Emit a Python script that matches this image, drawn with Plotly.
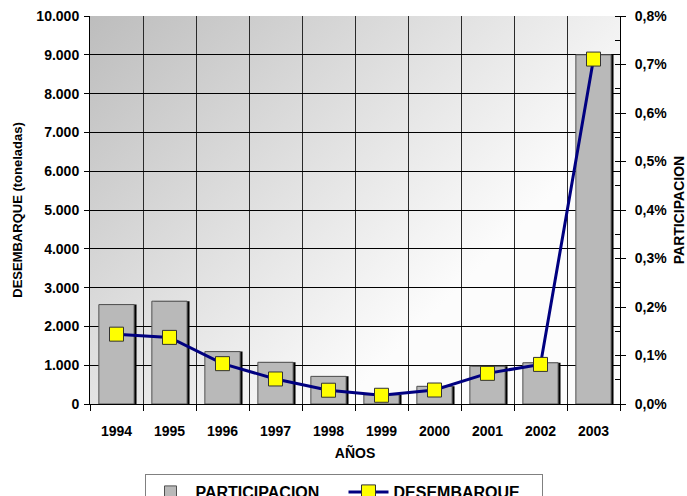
import base64
import plotly.graph_objects as go

years = ["1994", "1995", "1996", "1997", "1998", "1999", "2000", "2001", "2002", "2003"]
participacion = [0.00205, 0.00212, 0.00108, 0.00086, 0.00057, 0.00019, 0.000365, 0.00078, 0.00085, 0.0072]
desembarque = [1800, 1717, 1040, 645, 355, 225, 360, 790, 1020, 8890]

FONT = "Liberation Sans, Arial, sans-serif"

svg = (
    '<svg xmlns="http://www.w3.org/2000/svg" width="530" height="388" preserveAspectRatio="none">'
    '<defs><linearGradient id="g" gradientUnits="userSpaceOnUse" x1="0" y1="0" x2="320" y2="320">'
    '<stop offset="0" stop-color="#bdbdbd"/>'
    '<stop offset="1" stop-color="#fcfcfc"/>'
    '</linearGradient></defs>'
    '<rect width="530" height="388" fill="url(#g)"/></svg>'
)
src = "data:image/svg+xml;base64," + base64.b64encode(svg.encode()).decode()

fig = go.Figure()

# shadow of bars
fig.add_trace(go.Bar(
    x=years, y=participacion, yaxis="y", width=0.666, offset=-0.333 + 0.045,
    marker=dict(color="#000000", line=dict(width=0)),
    showlegend=False, hoverinfo="skip",
))
fig.add_trace(go.Bar(
    x=years, y=participacion, yaxis="y", name="PARTICIPACION", width=0.666, offset=-0.333,
    marker=dict(color="#b9b9b9", line=dict(color="#505050", width=1)),
))
fig.add_trace(go.Scatter(
    x=years, y=desembarque, yaxis="y2", name="DESEMBARQUE", mode="lines+markers",
    line=dict(color="#000080", width=3),
    marker=dict(symbol="square", size=14, color="#ffff00", line=dict(color="#333333", width=1)),
))

tickfont = dict(family=FONT, size=14, color="black", weight="bold")

fig.update_layout(
    width=687, height=496,
    margin=dict(l=90, r=67, t=16, b=92, autoexpand=False),
    paper_bgcolor="white", plot_bgcolor="rgba(0,0,0,0)",
    separators=",.",
    barmode="overlay",
    font=dict(family=FONT, size=13, color="black"),
    images=[dict(source=src, xref="paper", yref="paper", x=0, y=1, sizex=1, sizey=1,
                 sizing="stretch", layer="below", xanchor="left", yanchor="top")],
    xaxis=dict(
        type="category", tickson="boundaries", showgrid=True, gridcolor="#2a2a2a", gridwidth=1,
        ticks="outside", ticklen=6, tickcolor="black", showline=True, linecolor="black",
        tickfont=tickfont, ticklabelstandoff=14, automargin=False,
        title=dict(text="<b>AÑOS</b>", font=dict(family=FONT, size=14), standoff=10),
        range=[-0.5, 9.5],
    ),
    yaxis=dict(
        side="right", range=[0, 0.008], dtick=0.001, tickformat=".1%",
        showgrid=False, zeroline=False, showline=True, linecolor="black",
        ticks="outside", ticklen=5, tickcolor="black",
        minor=dict(dtick=0.0005, ticks="inside", ticklen=5, tickcolor="black", showgrid=False),
        tickfont=tickfont, ticklabelstandoff=6, automargin=False,
        title=dict(text="<b>PARTICIPACION</b>", font=dict(family=FONT, size=14), standoff=9),
    ),
    yaxis2=dict(
        side="left", overlaying="y", range=[0, 10000], dtick=1000, tickformat=",d",
        showgrid=True, gridcolor="black", gridwidth=1, zeroline=False,
        showline=True, linecolor="black", ticks="outside", ticklen=5, tickcolor="black",
        tickfont=tickfont, ticklabelstandoff=2, automargin=False,
        title=dict(text="<b>DESEMBARQUE (toneladas)</b>", font=dict(family=FONT, size=13), standoff=10),
    ),
    legend=dict(
        orientation="h", xref="container", yref="container", x=0.5, y=1 - 474 / 496,
        xanchor="center", yanchor="top", bordercolor="#808080", borderwidth=1,
        bgcolor="white", font=dict(family=FONT, size=16, color="black", weight="bold"),
        entrywidth=143, itemwidth=40, traceorder="normal",
    ),
)

fig.write_html("out.html", config={"displayModeBar": False},
               post_script="document.body.style.margin='0px';")
